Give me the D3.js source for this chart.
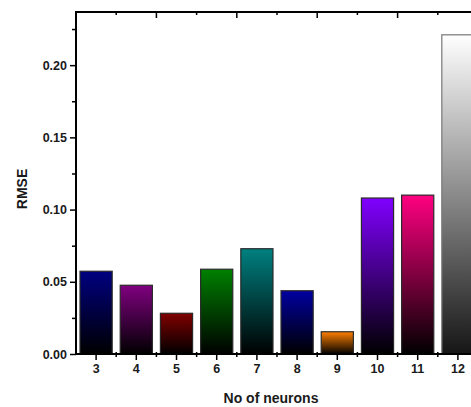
<!DOCTYPE html>
<html>
<head>
<meta charset="utf-8">
<script src="https://cdn.jsdelivr.net/npm/d3@7"></script>
<style>
  html, body { margin: 0; padding: 0; background: #fff; }
  svg { display: block; }
  text { font-family: "Liberation Sans", Arial, sans-serif; font-weight: bold; fill: #1a1a1a; }
</style>
</head>
<body>
<svg id="chart" width="471" height="407"></svg>
<script>
// RMSE for each network size
const neurons = [3, 4, 5, 6, 7, 8, 9, 10, 11, 12];
const rmse = [0.0573, 0.0476, 0.0282, 0.0587, 0.0729, 0.0438, 0.0154, 0.108, 0.110, 0.221];
const barColors = ["#000080", "#800080", "#800000", "#008000", "#008080", "#0000a0", "#ff8000", "#8000ff", "#ff0080", "#ffffff"];
const yTicks = [0.00, 0.05, 0.10, 0.15, 0.20];
const yMinorTicks = [0.025, 0.075, 0.125, 0.175, 0.225];

const svg = d3.select("#chart");
const plotLeft = 76, plotRight = 478, plotTop = 12, plotBottom = 354;

const x = d3.scaleBand().domain(neurons).range([plotLeft, plotRight])
  .paddingInner(0.2).paddingOuter(0.1);
const y = d3.scaleLinear().domain([0, 0.2368]).range([plotBottom, plotTop]);

// vertical gradients: bar colour at the top fading to black at the base
const defs = svg.append("defs");
barColors.forEach((c, i) => {
  const g = defs.append("linearGradient").attr("id", "grad" + i)
    .attr("x1", 0).attr("y1", 0).attr("x2", 0).attr("y2", 1);
  g.append("stop").attr("offset", 0).attr("stop-color", c);
  g.append("stop").attr("offset", 1).attr("stop-color", i === 9 ? "#161616" : "#000000");
});

svg.append("g").selectAll("rect").data(neurons).join("rect")
  .attr("x", d => x(d))
  .attr("width", x.bandwidth())
  .attr("y", (d, i) => y(rmse[i]))
  .attr("height", (d, i) => y(0) - y(rmse[i]))
  .attr("fill", (d, i) => `url(#grad${i})`)
  .attr("stroke", (d, i) => i === 9 ? "#777" : "#2a2a2a")
  .attr("stroke-width", 1.2);

// boundaries between categories (minor ticks on x axes)
const step = x.step();
const bounds = neurons.slice(0, -1).map(d => x(d) + x.bandwidth() / 2 + step / 2);

// left axis
const yAxis = d3.axisLeft(y).tickValues(yTicks).tickFormat(d3.format(".2f")).tickSize(6).tickPadding(3);
const gy = svg.append("g").attr("transform", `translate(${plotLeft},0)`).call(yAxis);
gy.select(".domain").remove();
gy.selectAll("line").attr("stroke", "#000").attr("stroke-width", 1.5);
gy.selectAll("text").style("font-size", "12.5px");
const gyMinor = d3.axisLeft(y).tickValues(yMinorTicks).tickSize(4).tickFormat("");
const gym = svg.append("g").attr("transform", `translate(${plotLeft},0)`).call(gyMinor);
gym.select(".domain").remove();
gym.selectAll("line").attr("stroke", "#000").attr("stroke-width", 1.5);

// bottom axis
const xAxis = d3.axisBottom(x).tickSize(6).tickPadding(4);
const gx = svg.append("g").attr("transform", `translate(0,${plotBottom})`).call(xAxis);
gx.select(".domain").remove();
gx.selectAll("line").attr("stroke", "#000").attr("stroke-width", 1.5);
gx.selectAll("text").style("font-size", "12.5px");
svg.append("g").selectAll("line").data(bounds).join("line")
  .attr("x1", d => d).attr("x2", d => d)
  .attr("y1", plotBottom - 2).attr("y2", plotBottom + 3)
  .attr("stroke", "#000").attr("stroke-width", 1.5);

// top axis ticks: alternating long/short at category boundaries
svg.append("g").selectAll("line").data(bounds).join("line")
  .attr("x1", d => d).attr("x2", d => d)
  .attr("y1", plotTop).attr("y2", (d, i) => plotTop + (i % 2 === 1 ? 6 : 3))
  .attr("stroke", "#000").attr("stroke-width", 1.5);

// frame lines
svg.append("line").attr("x1", plotLeft).attr("x2", 471).attr("y1", plotTop).attr("y2", plotTop)
  .attr("stroke", "#000").attr("stroke-width", 2);
svg.append("line").attr("x1", plotLeft).attr("x2", 471).attr("y1", plotBottom).attr("y2", plotBottom)
  .attr("stroke", "#000").attr("stroke-width", 2);
svg.append("line").attr("x1", plotLeft).attr("x2", plotLeft).attr("y1", plotTop - 1).attr("y2", plotBottom + 1)
  .attr("stroke", "#000").attr("stroke-width", 2);

// axis titles
svg.append("text")
  .attr("transform", "translate(27,189) rotate(-90)")
  .attr("text-anchor", "middle")
  .style("font-size", "14px")
  .text("RMSE");
svg.append("text")
  .attr("x", 271).attr("y", 403)
  .attr("text-anchor", "middle")
  .style("font-size", "14px")
  .text("No of neurons");
</script>
</body>
</html>
